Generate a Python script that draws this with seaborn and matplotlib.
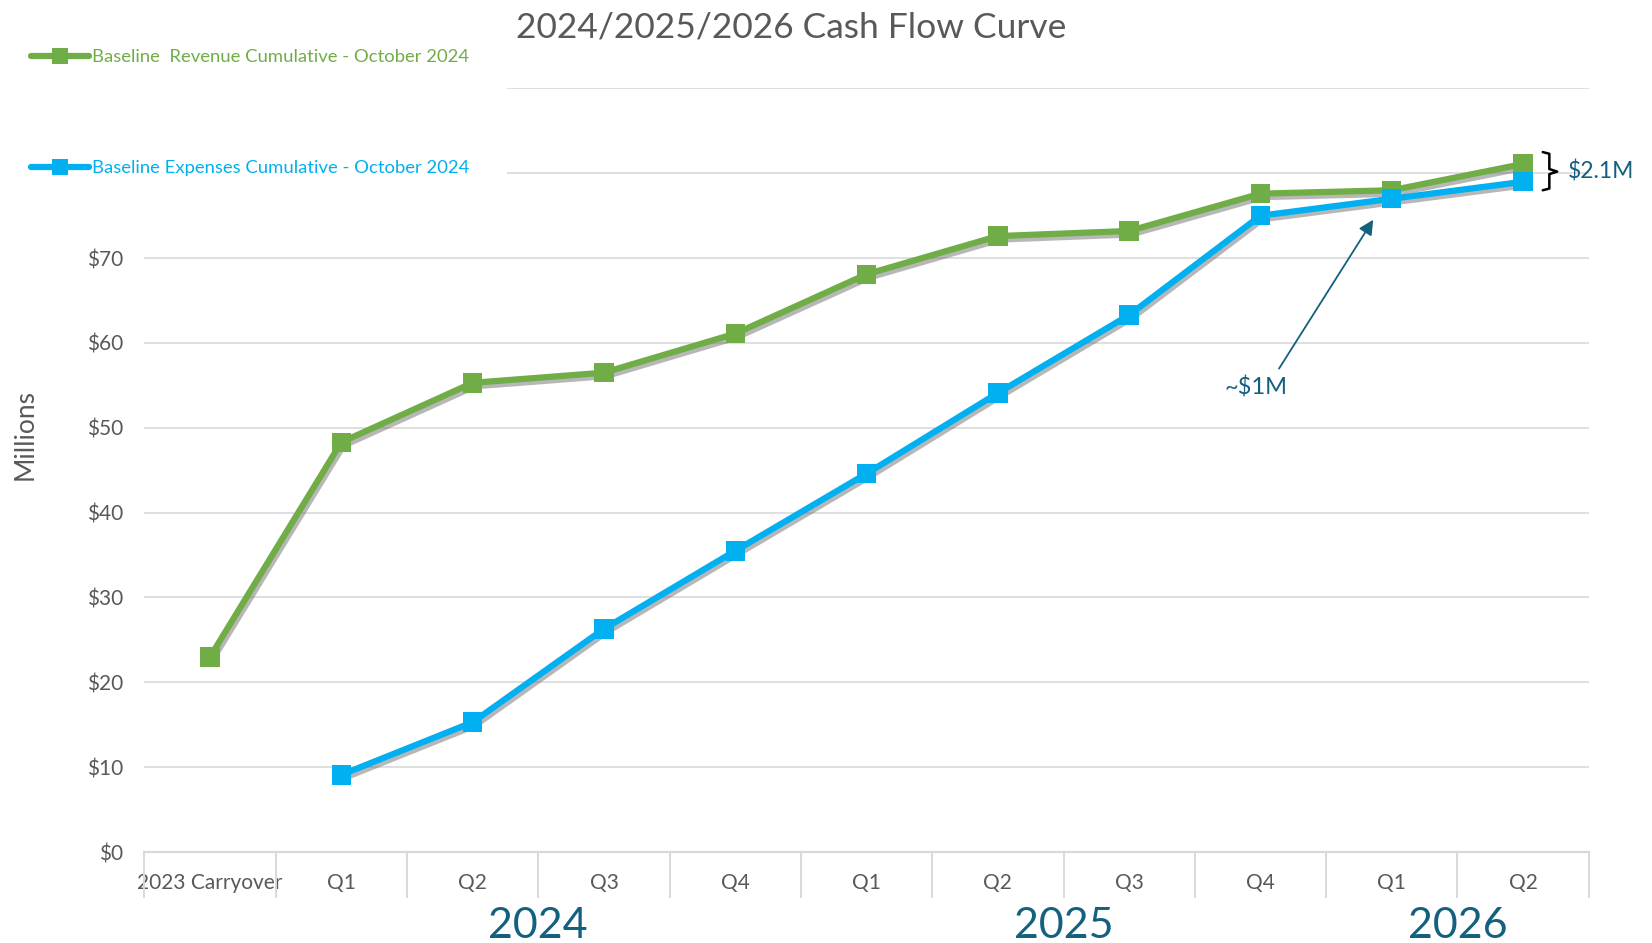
import matplotlib
matplotlib.use("Agg")
import matplotlib.pyplot as plt
import matplotlib.patheffects as pe
from matplotlib.lines import Line2D
from matplotlib.patches import Rectangle
from matplotlib.transforms import blended_transform_factory
import numpy as np
import pandas as pd
import seaborn as sns

# data (millions of dollars)
categories = ["2023 Carryover", "Q1", "Q2", "Q3", "Q4", "Q1", "Q2", "Q3", "Q4", "Q1", "Q2"]
years = ["2024", "2025", "2026"]
year_spans = [(1, 4), (5, 8), (9, 10)]
revenue = [23.0, 48.3, 55.3, 56.5, 61.1, 68.1, 72.6, 73.2, 77.6, 78.0, 81.1]
expenses = [np.nan, 9.1, 15.3, 26.3, 35.5, 44.6, 54.1, 63.3, 75.0, 77.0, 79.0]
y_ticks = list(range(0, 100, 10))
# $80 and $90 sit behind the legend in the original, so they get no label
y_labels = [f"${v}" if v <= 70 else "" for v in y_ticks]

GREEN = "#70AD47"
BLUE = "#00B0F0"
GREY = "#595959"
GRID = "#D9D9D9"
TEAL = "#14607F"

sns.set_style("white")
plt.rcParams["font.family"] = ["Lato", "DejaVu Sans"]

df = pd.DataFrame({"pos": np.arange(len(categories)), "revenue": revenue, "expenses": expenses})

fig = plt.figure(figsize=(16.52, 9.43), dpi=100)
ax = fig.add_axes([0.0874, 0.0965, 0.8743, 0.8097])

shadow = [pe.SimpleLineShadow(offset=(1.5, -2.5), shadow_color="#707070", alpha=0.5), pe.Normal()]
line_kw = dict(marker="s", markersize=14, linewidth=4.5, markeredgewidth=0, path_effects=shadow)
sns.lineplot(data=df, x="pos", y="revenue", color=GREEN, ax=ax, **line_kw)
sns.lineplot(data=df.dropna(), x="pos", y="expenses", color=BLUE, ax=ax, **line_kw)

ax.set_xlim(-0.5, len(categories) - 0.5)
ax.set_ylim(0, 90)
ax.set_yticks(y_ticks)
ax.set_yticklabels(y_labels, fontsize=15, color=GREY)
ax.yaxis.grid(True, color=GRID, linewidth=1.2)
ax.set_axisbelow(True)
ax.tick_params(axis="y", length=0, pad=15)

ax.set_xticks(df["pos"])
ax.set_xticklabels(categories, fontsize=15, color=GREY)
ax.set_xticks(np.arange(-0.5, len(categories), 1), minor=True)
ax.tick_params(axis="x", which="major", length=0, pad=15)
ax.tick_params(axis="x", which="minor", bottom=True, length=33, width=1.4, color=GRID,
               direction="out")
ax.set_xlabel("")

for s in ["top", "right", "left"]:
    ax.spines[s].set_visible(False)
ax.spines["bottom"].set_color(GRID)
ax.spines["bottom"].set_linewidth(1.6)

ax.set_ylabel("Millions", fontsize=19, color=GREY)
ax.yaxis.set_label_coords(-0.074, 0.547)

# year labels under the quarter labels
trans = blended_transform_factory(ax.transData, ax.transAxes)
for yr, (a, b) in zip(years, year_spans):
    ax.text((a + b) / 2, -0.097, yr, transform=trans, ha="center", va="center",
            fontsize=31, color=TEAL)

# ~$1M annotation
ax.annotate("", xy=(8.87, 74.8), xytext=(8.13, 56.7),
            arrowprops=dict(arrowstyle="-|>", color=TEAL, lw=1.3, mutation_scale=22))
ax.text(7.97, 54.7, "~$1M", ha="center", va="center", fontsize=17, color=TEAL)

# $2.1M brace
bx = [10.15, 10.20, 10.20, 10.26, 10.20, 10.20, 10.15]
by = [82.5, 82.3, 80.5, 80.2, 79.9, 78.2, 78.0]
ax.plot(bx, by, color="black", lw=1.8, clip_on=False, solid_joinstyle="round")
ax.text(10.34, 80.2, "$2.1M", ha="left", va="center", fontsize=16.5, color=TEAL, clip_on=False)

# white block behind the legend (hides the top gridlines there)
fig.patches.append(Rectangle((0, 0.783), 0.307, 0.217, transform=fig.transFigure,
                             facecolor="white", edgecolor="none", zorder=1))

handles = [
    Line2D([], [], color=GREEN, marker="s", markersize=11, linewidth=4.5, markeredgewidth=0),
    Line2D([], [], color=BLUE, marker="s", markersize=11, linewidth=4.5, markeredgewidth=0),
]
labels = ["Baseline  Revenue Cumulative - October 2024", "Baseline Expenses Cumulative - October 2024"]
fig.legend(handles, labels, loc="upper left", bbox_to_anchor=(0.019, 0.948), frameon=False,
           fontsize=13.3, labelcolor=[GREEN, BLUE], handlelength=3.1, handletextpad=0.2,
           labelspacing=5.15, borderpad=0, borderaxespad=0)

fig.text(0.479, 0.971, "2024/2025/2026 Cash Flow Curve", ha="center", va="center",
         fontsize=25.5, color=GREY)

fig.savefig("out.png", dpi=100)
